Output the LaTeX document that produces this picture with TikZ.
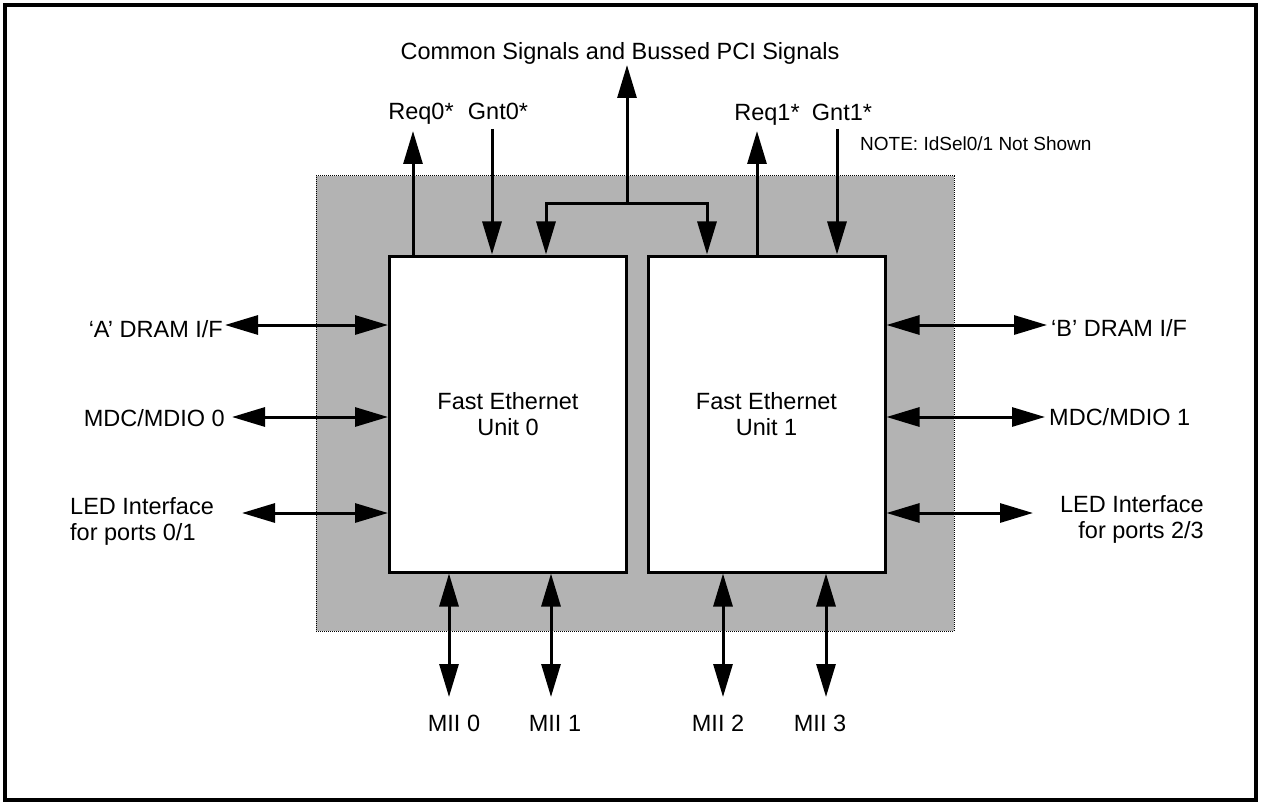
\documentclass[tikz,border=0pt]{standalone}
\usepackage{fontspec}
\setmainfont{Liberation Sans}
\usetikzlibrary{arrows.meta}
\definecolor{chipgrey}{RGB}{179,179,179}
\begin{document}
\begin{tikzpicture}[x=1pt,y=-1pt,
  lbl/.style={font=\fontsize{23.5}{26}\selectfont, inner sep=0pt},
  notetext/.style={font=\fontsize{19}{22}\selectfont, inner sep=0pt},
  tip/.tip={Triangle[length=33pt,width=19pt]},
  wire/.style={line width=3pt, -tip},
  bidir/.style={line width=3pt, tip-tip},
  unit/.style={draw, line width=3pt, fill=white, minimum width=237pt,
    minimum height=316pt, inner sep=0pt, lbl, align=center}
]
\useasboundingbox (0,0) rectangle (1261,805);

% outer frame
\node[draw, line width=3.5pt, minimum width=1251pt, minimum height=795pt,
  inner sep=0pt] (frame) at (630.5,402.5) {};

% shaded chip area
\node[fill=chipgrey, draw, line width=1pt, dash pattern=on 1pt off 1pt,
  minimum width=638pt, minimum height=455pt, inner sep=0pt] (chip) at (635,403.5) {};

% the two Ethernet units
\node[unit] (u0) at (508,414) {Fast Ethernet\\Unit 0};
\node[unit] (u1) at (766.5,414) {Fast Ethernet\\Unit 1};

% arbitration signals
\coordinate (r0) at (413,131);
\coordinate (g0) at (492,129);
\coordinate (r1) at (757,131);
\coordinate (g1) at (837,129);
\draw[wire] (r0 |- u0.north) -- (r0);
\draw[wire] (g0) -- (g0 |- u0.north);
\draw[wire] (r1 |- u1.north) -- (r1);
\draw[wire] (g1) -- (g1 |- u1.north);
\node[lbl, anchor=base] (lr0) at (421,120) {Req0*};
\node[lbl, anchor=base] (lg0) at (498,120) {Gnt0*};
\node[lbl, anchor=base] (lr1) at (767,121) {Req1*};
\node[lbl, anchor=base] (lg1) at (842,121) {Gnt1*};
\node[notetext, anchor=base west] (note) at (860,151) {NOTE: IdSel0/1 Not Shown};

% shared bus
\coordinate (bustop) at (627,65);
\coordinate (busj) at (627,204);
\coordinate (busl) at (546,204);
\coordinate (busr) at (707,204);
\draw[wire] (busj) -- (bustop);
\draw[bidir] (busl |- u0.north) -- (busl) -- (busr) -- (busr |- u1.north);
\node[lbl, anchor=base] (lbus) at (620,60) {Common Signals and Bussed PCI Signals};

% left side interfaces
\coordinate (la) at (225,325);
\coordinate (lm) at (232,417);
\coordinate (ll) at (242,513);
\draw[bidir] (la) -- (la -| u0.west);
\draw[bidir] (lm) -- (lm -| u0.west);
\draw[bidir] (ll) -- (ll -| u0.west);
\node[lbl, anchor=base east] (tla) at (223,337) {`A' DRAM I/F};
\node[lbl, anchor=base east] (tlm) at (225,426) {MDC/MDIO 0};
\node[lbl, anchor=west, align=left] (tll) at (70,521) {LED Interface\\for ports 0/1};

% right side interfaces
\coordinate (ra) at (1047,325);
\coordinate (rm) at (1045,417);
\coordinate (rl) at (1033,513);
\draw[bidir] (ra -| u1.east) -- (ra);
\draw[bidir] (rm -| u1.east) -- (rm);
\draw[bidir] (rl -| u1.east) -- (rl);
\node[lbl, anchor=base west] (tra) at (1051,336) {`B' DRAM I/F};
\node[lbl, anchor=base west] (trm) at (1049,425) {MDC/MDIO 1};
\node[lbl, anchor=east, align=right] (trl) at (1204,519) {LED Interface\\for ports 2/3};

% MII ports
\coordinate (m0) at (449,697);
\coordinate (m1) at (551,697);
\coordinate (m2) at (723,697);
\coordinate (m3) at (826,697);
\draw[bidir] (m0 |- u0.south) -- (m0);
\draw[bidir] (m1 |- u0.south) -- (m1);
\draw[bidir] (m2 |- u1.south) -- (m2);
\draw[bidir] (m3 |- u1.south) -- (m3);
\node[lbl, anchor=base] (tm0) at (454,731) {MII 0};
\node[lbl, anchor=base] (tm1) at (555,731) {MII 1};
\node[lbl, anchor=base] (tm2) at (718,731) {MII 2};
\node[lbl, anchor=base] (tm3) at (820,731) {MII 3};
\end{tikzpicture}
\end{document}
